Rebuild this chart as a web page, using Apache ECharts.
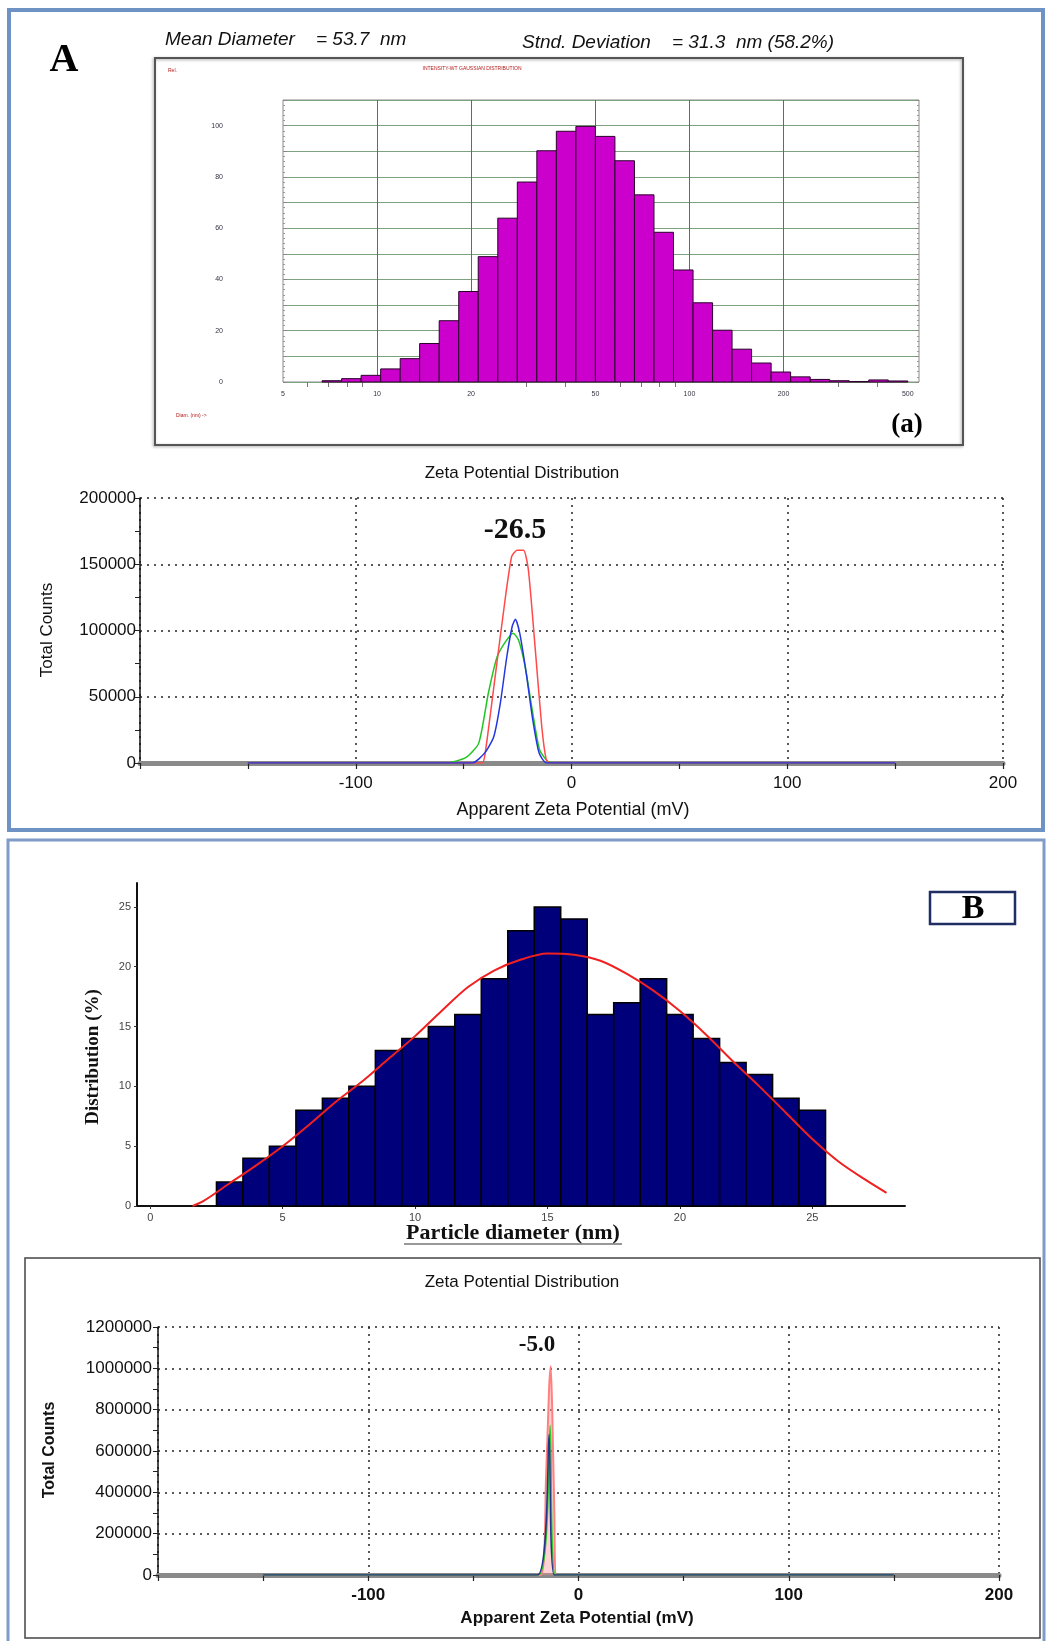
<!DOCTYPE html>
<html>
<head>
<meta charset="utf-8">
<title>Size distribution and zeta potential</title>
<script src="https://cdn.jsdelivr.net/npm/echarts@6/dist/echarts.min.js"></script>
<style>
  html, body { margin: 0; padding: 0; background: #fff; }
  #chart { width: 1046px; height: 1641px; }
</style>
</head>
<body>
<div id="chart"></div>
<script>
// ---- A (a): intensity weighted gaussian distribution, log-spaced diameter bins (nm)
var binEdgesA = [6.67, 7.70, 8.89, 10.27, 11.86, 13.69, 15.81, 18.26, 21.08, 24.35, 28.12,
  32.47, 37.49, 43.30, 50.0, 57.74, 66.68, 77.0, 88.91, 102.7, 118.6, 136.9, 158.1,
  182.6, 210.8, 243.5, 281.2, 324.7, 375.0, 433.0, 500.0];
var countsA = [0.5, 1.3, 2.6, 5.1, 9.1, 15.0, 23.9, 35.3, 48.9, 63.9, 78.0, 90.2, 97.8,
  99.7, 95.8, 86.3, 73.0, 58.4, 43.7, 30.9, 20.2, 12.8, 7.4, 3.9, 2.0, 1.0, 0.5, 0.2, 0.8, 0.4];
var diamLabelsA = [5, 10, 20, 50, 100, 200, 500];
var diamGridA = [10, 20, 50, 100, 200];
var diamMinorA = [6, 7, 8, 9, 30, 40, 60, 70, 80, 90, 300, 400];

// ---- A: zeta potential distribution (mV, total counts)
var zetaGreenA = [[-150, 0], [-58.5, 0], [-49, 4000], [-43, 15000], [-38.5, 53000], [-34.5, 80000],
  [-30.8, 91000], [-27.1, 98000], [-24.6, 93000], [-21.5, 73000], [-18.5, 43000],
  [-14.8, 10000], [-10.8, 1000], [-6.2, 0], [150, 0]];
var zetaRedA = [[-150, 0], [-41.5, 0], [-40, 7500], [-35.4, 65000], [-30.8, 123000],
  [-27.7, 156000], [-25.2, 160500], [-22.2, 160500], [-20, 146000], [-16.9, 88000],
  [-13.8, 27700], [-11.7, 2500], [-9.8, 0], [150, 0]];
var zetaBlueA = [[-150, 0], [-46, 0], [-40, 8000], [-36, 20000], [-33, 45000], [-30, 80000],
  [-27.5, 103000], [-26, 108500], [-24, 98000], [-21, 68000], [-18, 33000], [-15, 7500],
  [-11.5, 0], [150, 0]];

// ---- B: particle diameter histogram (nm, %)
var diamB = [3, 4, 5, 6, 7, 8, 9, 10, 11, 12, 13, 14, 15, 16, 17, 18, 19, 20, 21, 22, 23, 24, 25];
var distB = [2, 4, 5, 8, 9, 10, 13, 14, 15, 16, 19, 23, 25, 24, 16, 17, 19, 16, 14, 12, 11, 9, 8];
var fitB = [[1.6, 0], [2, 0.4], [3, 1.9], [4, 3.4], [5, 5], [6, 6.8], [7, 8.7], [8, 10.4],
  [9, 12.3], [10, 14.2], [11, 16.3], [12, 18.3], [13, 19.7], [14, 20.6], [15, 21.1],
  [16, 21.0], [17, 20.5], [18, 19.4], [19, 18.0], [20, 16.3], [21, 14.3], [22, 12.1],
  [23, 10.0], [24, 7.8], [25, 5.6], [26, 3.7], [27, 2.2], [27.8, 1.1]];
var diamTicksB = [0, 5, 10, 15, 20, 25];
var distTicksB = [0, 5, 10, 15, 20, 25];

// ---- B: zeta potential distribution
var zetaGreenB = [[-150, 0], [-19, 0], [-13.5, 725000], [-11, 0], [150, 0]];
var zetaRedB = [[-150, 0], [-18, 0], [-15.5, 450000], [-14, 900000], [-13.2, 1010000],
  [-12.5, 800000], [-11.5, 300000], [-10.5, 0], [150, 0]];
var zetaBlueB = [[-150, 0], [-19.5, 0], [-14, 680000], [-11.5, 0], [150, 0]];

var SANS = 'Liberation Sans, Arial, sans-serif';
var SERIF = 'Liberation Serif, Times New Roman, serif';
var log10 = function (v) { return Math.log(v) / Math.LN10; };

var chart = echarts.init(document.getElementById('chart'), null, { renderer: 'canvas' });

// bins as [x0, x1, height]
var binsA = countsA.map(function (c, i) {
  return [log10(binEdgesA[i]), log10(binEdgesA[i + 1]), c];
});
var binsB = diamB.map(function (d, i) {
  return [d - 0.5, d + 0.5, distB[i]];
});

function barRenderer(fill, stroke, lw) {
  return function (params, api) {
    var p0 = api.coord([api.value(0), api.value(2)]);
    var p1 = api.coord([api.value(1), 0]);
    return {
      type: 'rect',
      shape: { x: p0[0], y: p0[1], width: p1[0] - p0[0], height: p1[1] - p0[1] },
      style: { fill: fill, stroke: stroke, lineWidth: lw }
    };
  };
}

function zetaX(grid, size, bold) {
  return {
    gridIndex: grid, type: 'value', min: -200, max: 200, interval: 100,
    axisLine: { show: true, onZero: false, lineStyle: { color: '#8a8a8a', width: 5 } },
    axisTick: { show: true, length: 6, lineStyle: { color: '#222', width: 1.2 } },
    minorTick: { show: true, splitNumber: 2, length: 6, lineStyle: { color: '#222', width: 1.2 } },
    axisLabel: {
      fontSize: size, color: '#111', fontFamily: SANS, margin: 12,
      fontWeight: bold ? 'bold' : 'normal',
      formatter: function (v) { return v === -200 ? '' : String(v); }
    },
    splitLine: { show: true, lineStyle: { color: '#222', width: 1.5, type: [2, 5] } }
  };
}
function zetaY(grid, max, step, size, margin, bold) {
  return {
    gridIndex: grid, type: 'value', min: 0, max: max, interval: step,
    axisLine: { show: true, onZero: false, lineStyle: { color: '#111', width: 1.5 } },
    axisTick: { show: true, length: 5, lineStyle: { color: '#222' } },
    minorTick: { show: true, splitNumber: 2, length: 5, lineStyle: { color: '#222' } },
    axisLabel: {
      fontSize: size, color: '#111', fontFamily: SANS, margin: margin,
      fontWeight: bold ? 'bold' : 'normal',
      formatter: function (v) { return String(v); }
    },
    splitLine: { show: true, lineStyle: { color: '#222', width: 1.5, type: [2, 5] } }
  };
}
function zetaLine(xi, data, color, width, area) {
  var s = {
    type: 'line', xAxisIndex: xi, yAxisIndex: xi, data: data, showSymbol: false,
    smooth: 0.2, lineStyle: { color: color, width: width }, itemStyle: { color: color },
    z: 4
  };
  if (area) s.areaStyle = { color: area };
  return s;
}

var option = {
  animation: false,
  backgroundColor: '#fff',
  grid: [
    { left: 283, top: 100, width: 636, height: 282, show: true, borderColor: '#8a8a8a', borderWidth: 1 },
    { left: 140, top: 498, width: 863, height: 265 },
    { left: 137, top: 883, width: 768, height: 323 },
    { left: 158, top: 1327, width: 841, height: 248 }
  ],
  xAxis: [
    {
      gridIndex: 0, type: 'value', min: log10(5), max: log10(543),
      axisLine: { show: false }, axisTick: { show: false },
      axisLabel: {
        customValues: diamLabelsA.map(log10), fontSize: 7, color: '#334', margin: 9,
        formatter: function (v) { return String(Math.round(Math.pow(10, v))); }
      },
      splitLine: { show: false }
    },
    {
      gridIndex: 0, type: 'value', position: 'top', min: log10(5), max: log10(543),
      axisLine: { show: false },
      axisTick: { show: true, inside: true, length: 5, customValues: diamMinorA.map(log10), lineStyle: { color: '#777' } },
      axisLabel: { show: false }, splitLine: { show: false }
    },
    zetaX(1, 17, false),
    {
      gridIndex: 2, type: 'value', min: -0.5, max: 28.5,
      axisLine: { show: true, onZero: false, lineStyle: { color: '#111', width: 2 } },
      axisTick: { show: true, customValues: diamTicksB, length: 3, lineStyle: { color: '#333' } },
      axisLabel: { customValues: diamTicksB, fontSize: 11, color: '#444', fontFamily: SANS, margin: 6 },
      splitLine: { show: false }
    },
    zetaX(3, 17, true)
  ],
  yAxis: [
    {
      gridIndex: 0, type: 'value', min: 0, max: 110, interval: 10,
      axisLine: { show: false },
      axisTick: { show: true, inside: true, length: 4, lineStyle: { color: '#888' } },
      minorTick: { show: true, splitNumber: 5, length: 2, lineStyle: { color: '#999' } },
      axisLabel: {
        fontSize: 7, color: '#334', margin: 60,
        formatter: function (v) { return (v % 20 === 0 && v <= 100) ? String(v) : ''; }
      },
      splitLine: { show: true, lineStyle: { color: '#7ea27e', width: 1 } }
    },
    {
      gridIndex: 0, type: 'value', position: 'right', min: 0, max: 110, interval: 10,
      axisLine: { show: false },
      axisTick: { show: true, inside: true, length: 4, lineStyle: { color: '#888' } },
      minorTick: { show: true, splitNumber: 5, length: 2, lineStyle: { color: '#999' } },
      axisLabel: { show: false }, splitLine: { show: false }
    },
    zetaY(1, 200000, 50000, 17, 4, false),
    {
      gridIndex: 2, type: 'value', min: 0, max: 27,
      axisLine: { show: true, onZero: false, lineStyle: { color: '#111', width: 2 } },
      axisTick: { show: true, customValues: distTicksB, length: 3, lineStyle: { color: '#333' } },
      axisLabel: { customValues: distTicksB, fontSize: 11, color: '#444', fontFamily: SANS, margin: 6 },
      splitLine: { show: false }
    },
    zetaY(3, 1200000, 200000, 17, 6, false)
  ],
  series: [
    {
      type: 'line', xAxisIndex: 0, yAxisIndex: 0, data: [], silent: true,
      markLine: {
        silent: true, symbol: 'none', z: 1, animation: false,
        label: { show: false },
        lineStyle: { color: '#4e7a4e', type: 'solid', width: 1 },
        data: diamGridA.map(function (d) { return { xAxis: log10(d) }; })
      }
    },
    {
      type: 'custom', xAxisIndex: 0, yAxisIndex: 0, data: binsA, z: 3,
      encode: { x: [0, 1], y: 2 },
      renderItem: barRenderer('#cc00cc', '#2a002a', 1)
    },
    zetaLine(2, zetaGreenA, '#22c422', 1.5),
    zetaLine(2, zetaRedA, '#ff4a4a', 1.5),
    zetaLine(2, zetaBlueA, '#2436e0', 1.5),
    {
      type: 'custom', xAxisIndex: 3, yAxisIndex: 3, data: binsB, z: 3,
      encode: { x: [0, 1], y: 2 },
      renderItem: barRenderer('#00007a', '#000', 1.5)
    },
    {
      type: 'line', xAxisIndex: 3, yAxisIndex: 3, data: fitB, showSymbol: false,
      smooth: 0.3, z: 5, lineStyle: { color: '#f02020', width: 2 }
    },
    zetaLine(4, zetaRedB, '#ff8080', 2, 'rgba(255,140,140,0.55)'),
    zetaLine(4, zetaGreenB, '#2ccc2c', 1.5),
    zetaLine(4, zetaBlueB, '#24348a', 1.5)
  ],
  graphic: {
    elements: [
      // panel frames
      { type: 'rect', shape: { x: 9, y: 10, width: 1034, height: 820 }, style: { fill: null, stroke: '#6f92c4', lineWidth: 4 }, z: 100 },
      { type: 'rect', shape: { x: 8, y: 840, width: 1036, height: 810 }, style: { fill: null, stroke: '#7f9bc8', lineWidth: 3 }, z: 100 },
      { type: 'rect', shape: { x: 155, y: 58, width: 808, height: 387 }, style: { fill: null, stroke: '#555', lineWidth: 2, shadowBlur: 3, shadowColor: 'rgba(0,0,0,0.35)', shadowOffsetX: -1, shadowOffsetY: 1 } },
      { type: 'rect', shape: { x: 25, y: 1258, width: 1015, height: 380 }, style: { fill: null, stroke: '#444', lineWidth: 1.5 } },
      { type: 'rect', shape: { x: 930, y: 892, width: 85, height: 32 }, style: { fill: null, stroke: '#1f2f66', lineWidth: 2.5 } },
      // panel A texts
      { type: 'text', x: 64, y: 61, style: { text: 'A', font: 'bold 40px ' + SERIF, fill: '#000', align: 'center', verticalAlign: 'middle' } },
      { type: 'text', x: 165, y: 40, style: { text: 'Mean Diameter    = 53.7  nm', font: 'italic 19px ' + SANS, fill: '#111', align: 'left', verticalAlign: 'middle' } },
      { type: 'text', x: 522, y: 43, style: { text: 'Stnd. Deviation    = 31.3  nm (58.2%)', font: 'italic 19px ' + SANS, fill: '#111', align: 'left', verticalAlign: 'middle' } },
      { type: 'text', x: 472, y: 69, style: { text: 'INTENSITY-WT GAUSSIAN DISTRIBUTION', font: '5px ' + SANS, fill: '#b01818', align: 'center', verticalAlign: 'middle' } },
      { type: 'text', x: 168, y: 71, style: { text: 'Rel.', font: '5px ' + SANS, fill: '#b01818', align: 'left', verticalAlign: 'middle' } },
      { type: 'text', x: 176, y: 416, style: { text: 'Diam. (nm) ->', font: '5px ' + SANS, fill: '#b01818', align: 'left', verticalAlign: 'middle' } },
      { type: 'text', x: 907, y: 425, style: { text: '(a)', font: 'bold 27px ' + SERIF, fill: '#000', align: 'center', verticalAlign: 'middle' } },
      { type: 'text', x: 522, y: 473, style: { text: 'Zeta Potential Distribution', font: '17px ' + SANS, fill: '#111', align: 'center', verticalAlign: 'middle' } },
      { type: 'text', x: 515, y: 530, style: { text: '-26.5', font: 'bold 30px ' + SERIF, fill: '#111', align: 'center', verticalAlign: 'middle' } },
      { type: 'text', x: 47, y: 630, rotation: Math.PI / 2, style: { text: 'Total Counts', font: '17px ' + SANS, fill: '#111', align: 'center', verticalAlign: 'middle' } },
      { type: 'text', x: 573, y: 810, style: { text: 'Apparent Zeta Potential (mV)', font: '18px ' + SANS, fill: '#111', align: 'center', verticalAlign: 'middle' } },
      // panel B texts
      { type: 'text', x: 973, y: 909, style: { text: 'B', font: 'bold 34px ' + SERIF, fill: '#000', align: 'center', verticalAlign: 'middle' } },
      { type: 'text', x: 93, y: 1057, rotation: Math.PI / 2, style: { text: 'Distribution (%)', font: 'bold 19px ' + SERIF, fill: '#111', align: 'center', verticalAlign: 'middle' } },
      { type: 'text', x: 513, y: 1233, style: { text: 'Particle diameter (nm)', font: 'bold 22px ' + SERIF, fill: '#111', align: 'center', verticalAlign: 'middle' } },
      { type: 'line', shape: { x1: 404, y1: 1244, x2: 622, y2: 1244 }, style: { stroke: '#333', lineWidth: 1.2 } },
      { type: 'text', x: 522, y: 1282, style: { text: 'Zeta Potential Distribution', font: '17px ' + SANS, fill: '#111', align: 'center', verticalAlign: 'middle' } },
      { type: 'text', x: 537, y: 1345, style: { text: '-5.0', font: 'bold 23px ' + SERIF, fill: '#111', align: 'center', verticalAlign: 'middle' } },
      { type: 'text', x: 50, y: 1450, rotation: Math.PI / 2, style: { text: 'Total Counts', font: 'bold 16px ' + SANS, fill: '#111', align: 'center', verticalAlign: 'middle' } },
      { type: 'text', x: 577, y: 1618, style: { text: 'Apparent Zeta Potential (mV)', font: 'bold 17px ' + SANS, fill: '#111', align: 'center', verticalAlign: 'middle' } }
    ]
  }
};

chart.setOption(option);
</script>
</body>
</html>
